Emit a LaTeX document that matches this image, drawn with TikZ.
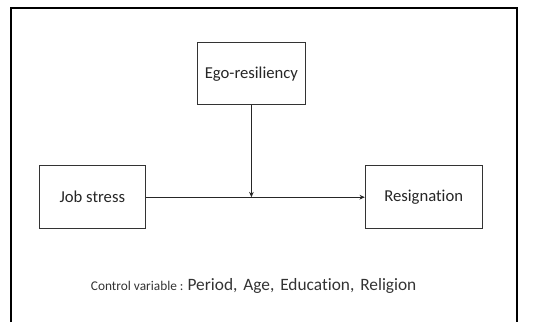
\documentclass[tikz,border=0pt]{standalone}
\usepackage{fontspec}
\setmainfont[Ligatures=NoCommon]{Carlito}
\usetikzlibrary{arrows.meta}
\begin{document}
\begin{tikzpicture}[x=0.75pt,y=-0.75pt,
  box/.style={draw=black!80,line width=0.8pt,inner sep=0pt,minimum height=47.5pt,font=\fontsize{12.5pt}{14pt}\selectfont,text=black!85},
  conn/.style={draw=black!85,line width=0.7pt,-{Stealth[length=4pt,width=3.5pt]}}]
\useasboundingbox (0,0) rectangle (533,322);
\draw[line width=1pt] (11,322) -- (11,8) -- (517,8) -- (517,322);
\node[box,minimum width=80.5pt,minimum height=46.7pt] (ego) at (251.4,73.8) {Ego-resiliency};
\node[box,minimum width=79.5pt] (job) at (92.3,197.2) {Job stress};
\node[box,minimum width=87.5pt] (res) at (423.7,197.2) {Resignation};
\coordinate (mid) at (251.4,197.2);
\draw[conn] (job.east) -- (res.west);
\draw[conn] (ego.south) -- (mid);
\node[anchor=base west,inner sep=0pt,text=black!80] (ctrl) at (90.7,290) {{\fontsize{10pt}{12pt}\selectfont Control variable :} {\fontsize{13pt}{15pt}\selectfont Period,\ \hspace{1.5pt}Age,\ \hspace{1.5pt}Education,\ \hspace{1.5pt}Religion}};
\end{tikzpicture}
\end{document}
